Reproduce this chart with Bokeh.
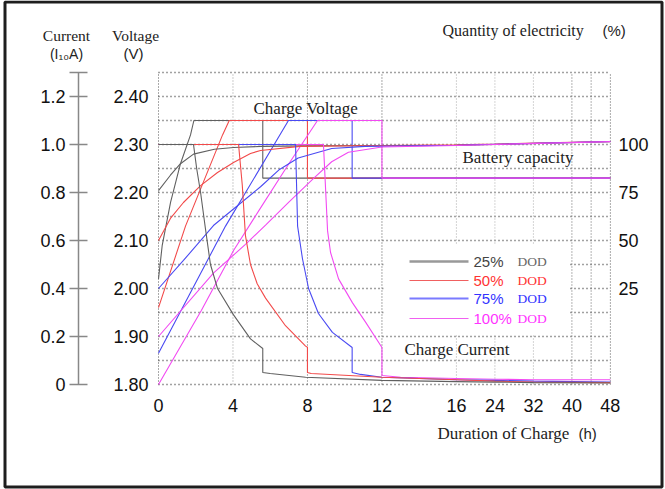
from bokeh.plotting import figure
from bokeh.models import LinearAxis, Range1d, FixedTicker, Label
from bokeh.embed import file_html
from bokeh.resources import INLINE

# ---------------- data ----------------
hour_ticks = [0, 4, 8, 12, 16, 24, 32, 40, 48]
hour_grid = [0, 4, 8, 12, 16, 24, 32, 40, 44, 48]
volt_ticks = [1.80, 1.90, 2.00, 2.10, 2.20, 2.30, 2.40]
volt_grid = [1.80, 1.85, 1.90, 1.95, 2.00, 2.05, 2.10, 2.15, 2.20, 2.25, 2.30, 2.35, 2.40, 2.45]
cur_ticks = [0, 0.2, 0.4, 0.6, 0.8, 1.0, 1.2, 1.3]
cur_labels = ["0", "0.2", "0.4", "0.6", "0.8", "1.0", "1.2", ""]
pct_ticks = [25, 50, 75, 100]

dod_names = ["25%", "50%", "75%", "100%"]

# charge voltage (V) vs hours
gv_t = [0, 0.2, 0.65, 1.18, 1.72, 1.9, 5.6, 5.6, 48]
gv_v = [2.02, 2.09, 2.18, 2.26, 2.32, 2.35, 2.35, 2.23, 2.23]
rv_t = [0, 1.45, 3.44, 3.8, 8.0, 8.0, 48]
rv_v = [1.96, 2.13, 2.32, 2.35, 2.35, 2.23, 2.23]
bv_t = [0, 3.6, 6.98, 10.4, 10.4, 48]
bv_v = [1.865, 2.13, 2.35, 2.35, 2.23, 2.23]
mv_t = [0, 2.3, 4.03, 5.5, 7.0, 8.54, 12.0, 12.0, 48]
mv_v = [1.80, 1.954, 2.079, 2.169, 2.26, 2.35, 2.35, 2.23, 2.23]

# charge current (x I10 A) vs hours
gi_t = [0, 1.88, 2.05, 2.26, 2.52, 2.79, 3.17, 4.03, 4.94, 5.6, 5.6, 6.0, 7.9, 12, 16, 24, 32, 48]
gi_i = [1.0, 1.0, 0.90, 0.80, 0.65, 0.50, 0.40, 0.29, 0.19, 0.15, 0.05, 0.046, 0.03, 0.017, 0.012, 0.01, 0.008, 0.006]
ri_t = [0, 4.3, 4.5, 4.67, 4.94, 5.3, 5.75, 6.82, 7.9, 8.0, 8.0, 8.2, 12, 16, 24, 32, 48]
ri_i = [1.0, 1.0, 0.83, 0.62, 0.50, 0.42, 0.36, 0.245, 0.16, 0.155, 0.05, 0.046, 0.03, 0.02, 0.014, 0.01, 0.008]
bi_t = [0, 7.36, 7.47, 7.73, 8.06, 8.59, 9.34, 10.4, 10.4, 10.85, 12, 16, 24, 32, 48]
bi_i = [1.0, 1.0, 0.66, 0.525, 0.40, 0.296, 0.217, 0.154, 0.05, 0.042, 0.03, 0.02, 0.017, 0.014, 0.01]
mi_t = [0, 8.86, 9.08, 9.24, 9.67, 10.42, 11.12, 12.0, 12.0, 13, 16, 24, 32, 48]
mi_i = [1.0, 1.0, 0.64, 0.55, 0.44, 0.34, 0.26, 0.154, 0.0375, 0.03, 0.025, 0.022, 0.02, 0.02]

# battery capacity (%) vs hours
gc_t = [0, 0.64, 1.18, 1.88, 3.0, 4.03, 5.5, 8, 12, 16, 24, 32, 48]
gc_p = [76, 84, 90, 95, 97.5, 98.4, 99, 99.3, 99.5, 99.6, 100, 100.5, 101.5]
rc_t = [0, 0.64, 1.34, 2.26, 3.17, 4.03, 4.94, 5.48, 7.6, 12, 16, 24, 32, 48]
rc_p = [50, 61.5, 69.8, 78.6, 85.4, 90.6, 95.3, 96.9, 99, 99.5, 99.8, 100.2, 100.7, 101.6]
bc_t = [0, 1.34, 2.95, 5.48, 6.5, 7.5, 9.3, 11.1, 16, 24, 32, 48]
bc_p = [25, 39.6, 57.8, 78, 87, 93, 97.9, 99, 99.6, 100.1, 100.6, 101.6]
mc_t = [0, 2.95, 4.67, 5.75, 7.0, 8.4, 9.3, 10.2, 12, 16, 24, 48]
mc_p = [0, 33, 48, 58, 70, 83, 91, 96, 98.7, 99.5, 100, 101.5]

# ---------------- style / layout ----------------
COLORS = ["#606060", "#f24a4a", "#4a4af2", "#f24af2"]
SANS = "Liberation Sans"
SERIF = "Liberation Serif"
W, H = 665, 489
X0_PX, PX_PER_U = 158, 18.62     # canvas x of t=0, pixels per display unit
Y0_PX, PX_PER_V = 384, 480       # canvas y of 1.80 V, pixels per volt
VGRID_COLORS = ["#555555", "#999999", "#666666", "#555555", "#aaaaaa",
                "#aaaaaa", "#aaaaaa", "#666666", "#666666", "#555555"]


def xpos(h):
    # time axis: linear up to 16 h, compressed beyond
    return h if h <= 16 else 16 + (h - 16) * 0.2584


def xs(ts):
    return [xpos(t) for t in ts]


def v2cur(v):
    return (v - 1.80) * 2.0


def v2pct(v):
    return (v - 1.90) * 250.0


def px_x(px):
    return (px - X0_PX) / PX_PER_U


def px_y(py):
    return 1.80 + (Y0_PX - py) / PX_PER_V


XMIN, XMAX = px_x(0), px_x(W)
YMIN, YMAX = px_y(H), px_y(0)
VTOP = volt_grid[-1]

p = figure(width=W, height=H, output_backend="svg", toolbar_location=None,
           x_range=Range1d(XMIN, XMAX), y_range=Range1d(YMIN, YMAX),
           min_border=0, background_fill_color="white", border_fill_color="white")
p.outline_line_color = None
p.grid.visible = False
p.extra_y_ranges = {"cur": Range1d(v2cur(YMIN), v2cur(YMAX)),
                    "pct": Range1d(v2pct(YMIN), v2pct(YMAX))}

# picture frame
p.quad(left=[px_x(4.5)], right=[px_x(661.5)], bottom=[px_y(486.5)], top=[px_y(1.5)],
       fill_color=None, line_color="#1e1e1e", line_width=3)

# grid (dotted), limited to the plotting region
p.multi_line([[0, xpos(hour_grid[-1])] for _ in volt_grid],
             [[v, v] for v in volt_grid],
             line_color="#444444", line_dash="1 3", line_width=1.3)
p.multi_line([[xpos(h), xpos(h)] for h in hour_grid],
             [[volt_grid[0], VTOP] for _ in hour_grid],
             line_color=VGRID_COLORS, line_dash="1 2", line_width=1)

# white legend panel hiding the grid
p.quad(left=[px_x(383)], right=[px_x(568)], bottom=[px_y(334)], top=[px_y(244)],
       fill_color="white", line_color=None)


def plain(ax, standoff):
    ax.axis_line_color = None
    ax.major_tick_line_color = None
    ax.minor_tick_line_color = None
    ax.major_tick_out = 0
    ax.major_tick_in = 0
    ax.major_label_standoff = standoff
    ax.major_label_text_font = SANS
    ax.major_label_text_font_size = "18px"
    ax.major_label_text_color = "#111111"


# x axis
xa = p.xaxis[0]
xa.ticker = FixedTicker(ticks=[xpos(h) for h in hour_ticks])
xa.major_label_overrides = {xpos(h): str(h) for h in hour_ticks}
xa.fixed_location = volt_grid[0]
plain(xa, 14)

# voltage axis
va = p.yaxis[0]
va.ticker = FixedTicker(ticks=volt_ticks)
va.major_label_overrides = {v: f"{v:.2f}" for v in volt_ticks}
va.fixed_location = 0
plain(va, 10)

# current axis
ca = LinearAxis(y_range_name="cur", ticker=FixedTicker(ticks=cur_ticks))
ca.major_label_overrides = dict(zip(cur_ticks, cur_labels))
plain(ca, 4)
ca.fixed_location = px_x(78)
ca.bounds = (0, cur_ticks[-1])
ca.axis_line_color = "#888888"
ca.axis_line_width = 1.5
ca.major_tick_line_color = "#888888"
ca.major_tick_line_width = 1.5
ca.major_tick_in = 9
ca.major_tick_out = 9
p.add_layout(ca, "left")

# quantity of electricity axis
pa = LinearAxis(y_range_name="pct", ticker=FixedTicker(ticks=pct_ticks))
plain(pa, 8)
pa.fixed_location = xpos(hour_grid[-1])
p.add_layout(pa, "right")

# ---------------- curves ----------------
volts = [(gv_t, gv_v), (rv_t, rv_v), (bv_t, bv_v), (mv_t, mv_v)]
currents = [(gi_t, gi_i), (ri_t, ri_i), (bi_t, bi_i), (mi_t, mi_i)]
caps = [(gc_t, gc_p), (rc_t, rc_p), (bc_t, bc_p), (mc_t, mc_p)]

for (t, v), c in zip(volts, COLORS):
    p.line(xs(t), v, line_color=c, line_width=1.1)
for (t, v), c in zip(caps, COLORS):
    p.line(xs(t), v, line_color=c, line_width=1.1, y_range_name="pct")
for (t, v), c in reversed(list(zip(currents, COLORS))):
    p.line(xs(t), v, line_color=c, line_width=1.1, y_range_name="cur")

# ---------------- legend (manual, two-colour labels) ----------------
LEG_X0, LEG_X1, LEG_NUM_X, LEG_DOD_X = px_x(409), px_x(468), px_x(473), px_x(517)
LEG_Y = [px_y(261), px_y(280), px_y(298), px_y(318)]
SWATCH_COLORS = ["#999999", "#f06060", "#7a7aff", "#f060f0"]
SWATCH_WIDTHS = [2.5, 1.2, 2.2, 1.2]
NUM_COLORS = ["#444444", "#ff3333", "#3333ff", "#ff33ff"]
DOD_COLORS = ["#666666", "#ff3333", "#3333ff", "#ff33ff"]
for name, y, sc, sw, nc, dc in zip(dod_names, LEG_Y, SWATCH_COLORS, SWATCH_WIDTHS, NUM_COLORS, DOD_COLORS):
    p.line([LEG_X0, LEG_X1], [y, y], line_color=sc, line_width=sw)
    p.add_layout(Label(x=LEG_NUM_X, y=y, text=name, text_font=SANS, text_font_size="15px",
                       text_color=nc, text_baseline="middle", text_align="left"))
    p.add_layout(Label(x=LEG_DOD_X, y=y, text="DOD", text_font=SERIF, text_font_size="13.5px",
                       text_color=dc, text_baseline="middle", text_align="left"))


# ---------------- captions ----------------
def cap(px, py, text, font=SERIF, size="17px", align="left", color="#222222"):
    p.add_layout(Label(x=px_x(px), y=px_y(py), text=text, text_font=font, text_font_size=size,
                       text_color=color, text_baseline="middle", text_align=align))


cap(253, 108, "Charge Voltage")
cap(462, 157, "Battery capacity")
cap(404, 349, "Charge Current")
cap(437, 433, "Duration of Charge")
cap(578, 433, "(h)", font=SANS, size="15px")
cap(442, 30, "Quantity of electricity", size="16px")
cap(602, 30, "(%)", font=SANS, size="15px")
cap(66, 35, "Current", size="15.5px", align="center")
cap(66, 53, "(I\u2081\u2080A)", font=SANS, size="14px", align="center")
cap(135, 35, "Voltage", size="15.5px", align="center")
cap(133, 53, "(V)", font=SANS, size="15px", align="center")

open("out.html", "w").write(file_html(p, INLINE))
